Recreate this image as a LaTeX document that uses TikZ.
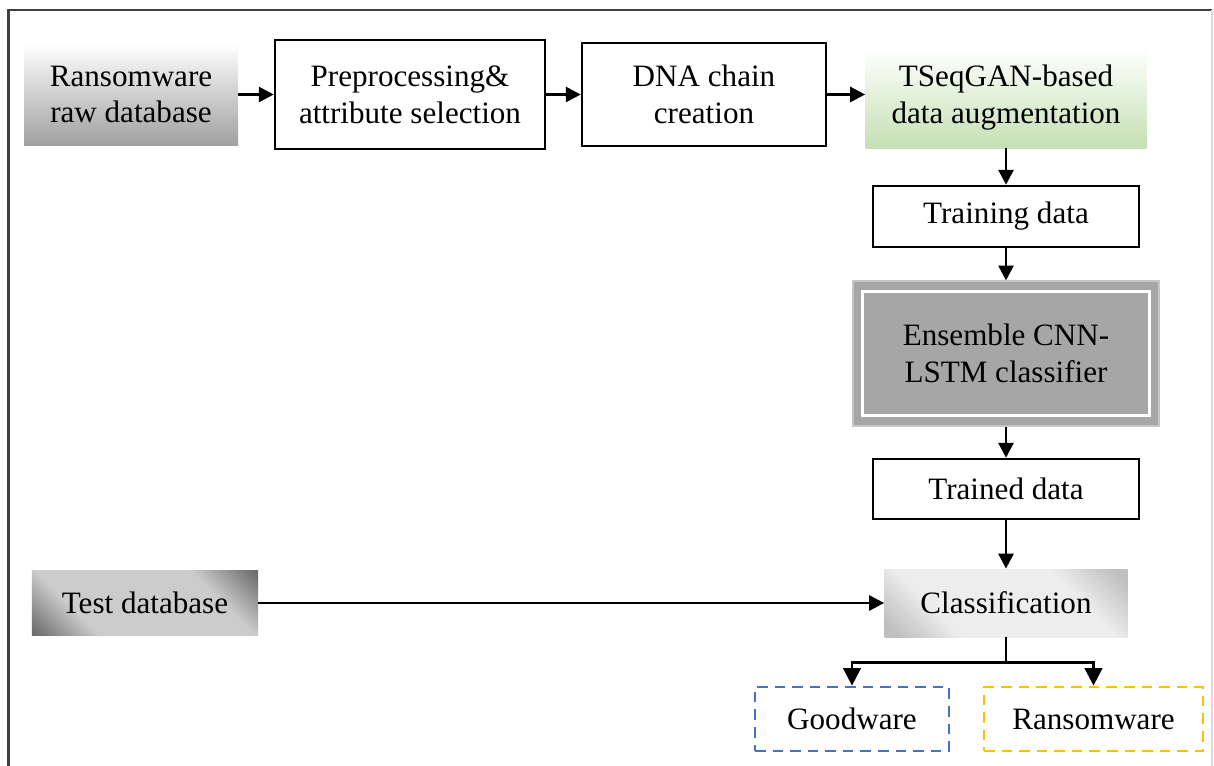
\documentclass[tikz,border=0pt]{standalone}
\usepackage{fontspec}
\setmainfont{Liberation Serif}
\usetikzlibrary{arrows.meta}

\definecolor{augGreen}{RGB}{197,224,180}
\definecolor{goodBlue}{RGB}{68,114,196}
\definecolor{ransomYellow}{RGB}{255,192,0}
\definecolor{ensGray}{RGB}{166,166,166}
\definecolor{frameGray}{RGB}{64,64,64}

% dark corners, light band through the middle
\pgfdeclareverticalshading{testshade}{100bp}{color(0bp)=(black!60); color(30bp)=(black!57); color(39bp)=(black!20); color(61bp)=(black!20); color(70bp)=(black!57); color(100bp)=(black!60)}
\pgfdeclareverticalshading{clsshade}{100bp}{color(0bp)=(black!27); color(30bp)=(black!25); color(39bp)=(black!7); color(61bp)=(black!7); color(70bp)=(black!25); color(100bp)=(black!27)}

\begin{document}
\begin{tikzpicture}[
        font=\fontsize{17.7}{21}\selectfont,
        boxstyle/.style={draw, line width=1.4pt, align=center, inner sep=0pt},
        plainstyle/.style={align=center, inner sep=0pt},
        dashstyle/.style={dashed, dash pattern=on 6pt off 4pt, line width=1.6pt, align=center, inner sep=0pt},
        cornerfill/.style={path picture={
            \shade[shading=#1, shading angle=-45] (path picture bounding box.center) ++(-2.5,-2.5) rectangle ++(5,5);}},
        linestyle/.style={
            -{Triangle[length=8.5pt,width=8.5pt]},
            line width=1.6pt,},
        splitstyle/.style={
            -{Triangle[length=10pt,width=10pt]},
            line width=1.6pt,}
        ]

        \useasboundingbox (0,0) rectangle (24.28,-15.3);

        % frame
        \draw[frameGray, line width=1.2pt] (0.17,-15.4) -- (0.17,-0.2) -- (24.24,-0.2);
        \draw[gray!30, line width=0.8pt] (24.24,-0.2) -- (24.24,-15.4);

        % top row
        \node[plainstyle, minimum width=4.28cm, minimum height=2.04cm, top color=white, bottom color=gray!75] (raw) at (2.62,-1.89) {Ransomware\\raw database};
        \node[boxstyle, minimum width=5.4cm, minimum height=2.18cm] (prep) at (8.2,-1.89) {Preprocessing\&\\attribute selection};
        \node[boxstyle, minimum width=4.88cm, minimum height=2.06cm] (dna) at (14.08,-1.89) {DNA chain\\creation};
        \node[plainstyle, minimum width=5.62cm, minimum height=2.0cm, top color=white, bottom color=augGreen] (tseq) at (20.12,-1.96) {TSeqGAN-based\\data augmentation};

        % right column
        \node[boxstyle, minimum width=5.32cm, minimum height=1.22cm] (train) at (20.12,-4.33) {Training data};
        \node[plainstyle, draw=gray!45, line width=0.6pt, fill=ensGray, minimum width=6.12cm, minimum height=2.9cm] (ens) at (20.12,-7.07) {Ensemble CNN-\\LSTM classifier};
        \draw[white, line width=1.7pt] ([shift={(0.21,-0.23)}]ens.north west) rectangle ([shift={(-0.21,0.23)}]ens.south east);
        \node[boxstyle, minimum width=5.32cm, minimum height=1.2cm] (trained) at (20.12,-9.78) {Trained data};
        \node[plainstyle, minimum width=4.86cm, minimum height=1.36cm, cornerfill=clsshade] (cls) at (20.12,-12.06) {Classification};

        % test input
        \node[plainstyle, minimum width=4.52cm, minimum height=1.3cm, cornerfill=testshade] (test) at (2.9,-12.06) {Test database};

        % outputs
        \node[dashstyle, draw=goodBlue, minimum width=3.88cm, minimum height=1.28cm] (good) at (17.04,-14.38) {Goodware};
        \node[dashstyle, draw=ransomYellow, minimum width=4.38cm, minimum height=1.28cm] (ransom) at (21.87,-14.38) {Ransomware};

        \draw[linestyle] (raw) -- (prep);
        \draw[linestyle] (prep) -- (dna);
        \draw[linestyle] (dna) -- (dna -| tseq.west);
        \draw[linestyle] (tseq) -- (train);
        \draw[linestyle] (train) -- (ens);
        \draw[linestyle] (ens) -- (trained);
        \draw[linestyle] (trained) -- (cls);
        \draw[linestyle] (test) -- (cls);
        \draw[splitstyle] (cls.south) -- ++(0,-0.5) -| (good.north);
        \draw[splitstyle] (cls.south) -- ++(0,-0.5) -| (ransom.north);

    \end{tikzpicture}
\end{document}
